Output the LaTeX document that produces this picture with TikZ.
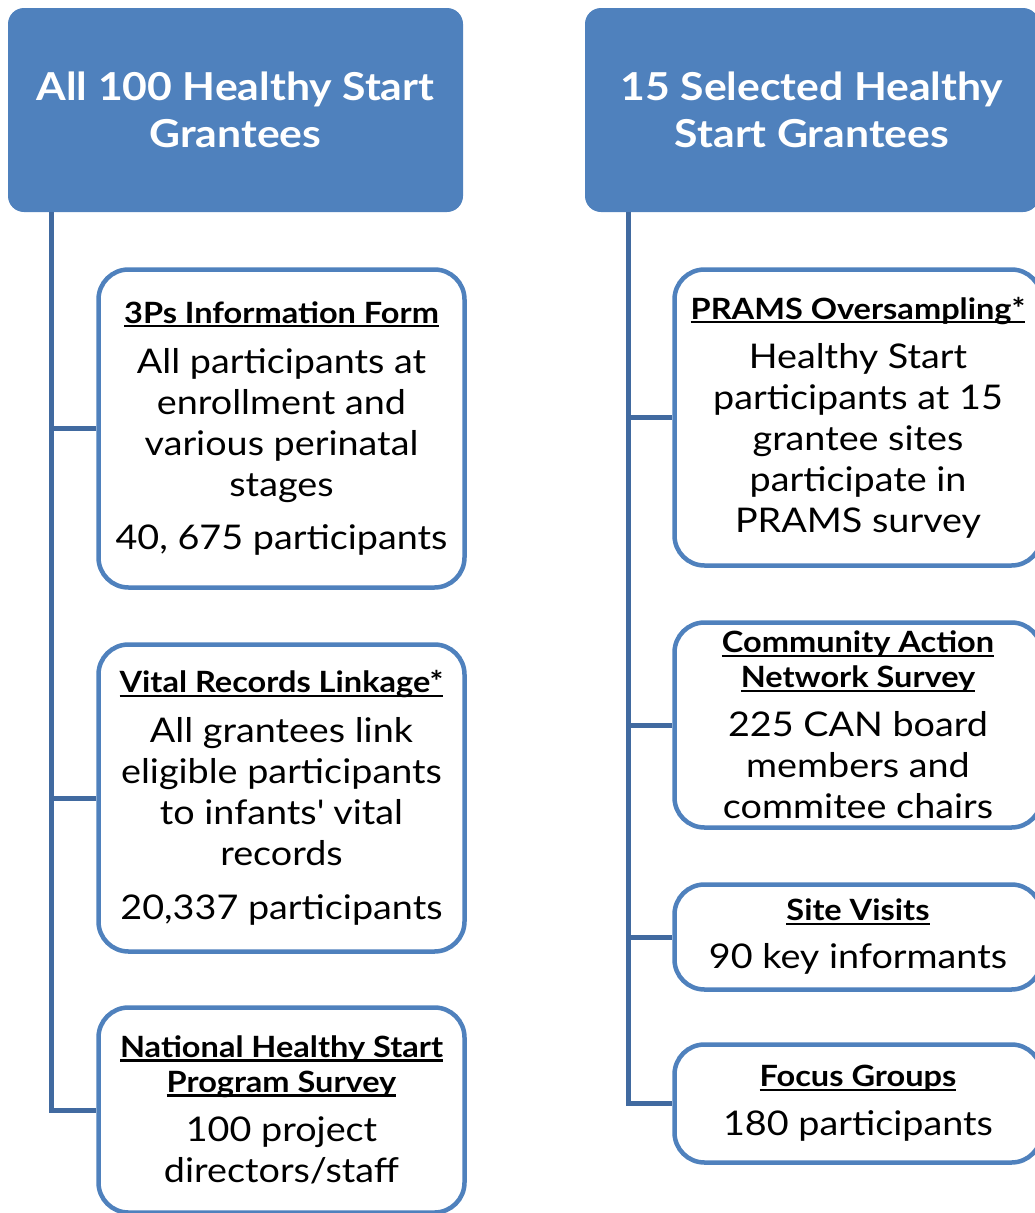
\documentclass[tikz,border=0pt]{standalone}
\usepackage{fontspec}
\setmainfont{Lato}[FakeStretch=1.11]
\usetikzlibrary{positioning}

\definecolor{hsblue}{RGB}{79,129,189}
\definecolor{hsdark}{RGB}{65,106,160}

% underlined box heading, rule kept at a fixed depth
\newcommand{\hd}[1]{{\bfseries\fontsize{29.3}{35}\selectfont\setbox0=\hbox{#1}\rlap{\rule[-4pt]{\wd0}{2.2pt}}\box0}}

\begin{document}
\begin{tikzpicture}[
  x=1pt, y=-1pt,
  head/.style={fill=hsblue, rounded corners=16pt, text=white, align=center, inner sep=0pt,
    font=\bfseries\fontsize{38.5}{47}\selectfont, minimum width=455pt, minimum height=204pt},
  item/.style={draw=hsblue, line width=4.5pt, fill=white, rounded corners=30pt, align=center,
    inner sep=0pt, font=\fontsize{34}{41}\selectfont},
  link/.style={draw=hsdark, line width=5pt}
]
\useasboundingbox (0,0) rectangle (1035,1213);

\node[head] (lhead) at (235.5,110) {All 100 Healthy Start\\Grantees};
\node[head, minimum width=454pt] (rhead) at (812,110) {15 Selected Healthy\\Start Grantees};

% left column
\node[item, minimum width=366pt, minimum height=318pt] (lf1) at (281.5,428.5)
  {\hd{3Ps Information Form}\\[9pt] All participants at\\ enrollment and\\ various perinatal\\ stages\\[12pt] 40, 675 participants};
\node[item, minimum width=366pt, minimum height=307pt] (lf2) at (281.5,798)
  {\hd{Vital Records Linkage*}\\[9pt] All grantees link\\ eligible participants\\ to infants\textquotesingle{} vital\\ records\\[13pt] 20,337 participants};
\node[item, minimum width=366pt, minimum height=205pt] (lf3) at (281.5,1110)
  {\hd{National Healthy Start}\\[-6pt]\hd{Program Survey}\\[8pt] 100 project\\ directors/staff};

% right column
\node[item, minimum width=367pt, minimum height=296pt] (rf1) at (858,417.5)
  {\hd{PRAMS Oversampling*}\\[8pt] Healthy Start\\ participants at 15\\ grantee sites\\ participate in\\ PRAMS survey};
\node[item, minimum width=367pt, minimum height=205pt] (rf2) at (858,725)
  {\hd{Community Action}\\[-6pt]\hd{Network Survey}\\[8pt] 225 CAN board\\ members and\\ commitee chairs};
\node[item, minimum width=367pt, minimum height=105pt] (rf3) at (858,937)
  {\hd{Site Visits}\\[7pt] 90 key informants};
\node[item, minimum width=367pt, minimum height=118pt] (rf4) at (858,1103.5)
  {\hd{Focus Groups}\\[8pt] 180 participants};

\coordinate (ltop) at (51,212);
\coordinate (rtop) at (628,212);

\draw[link] (ltop) |- (lf3.west);
\foreach \n in {lf1,lf2}
  \draw[link] (\n.west) -- (\n.west -| ltop);

\draw[link] (rtop) |- (rf4.west);
\foreach \n in {rf1,rf2,rf3}
  \draw[link] (\n.west) -- (\n.west -| rtop);
\end{tikzpicture}
\end{document}
